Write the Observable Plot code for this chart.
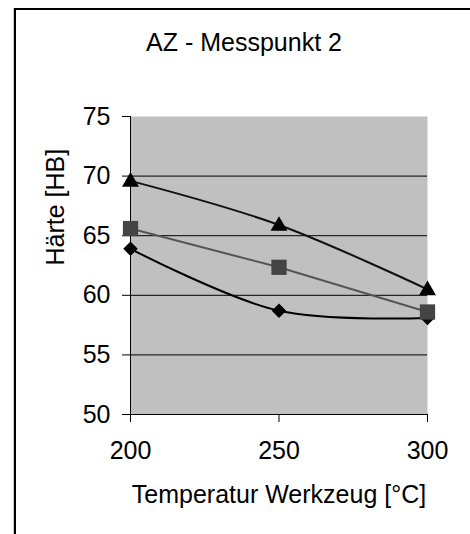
<!DOCTYPE html>
<html><head><meta charset="utf-8">
<script src="https://cdn.jsdelivr.net/npm/d3@7"></script>
<script src="https://cdn.jsdelivr.net/npm/@observablehq/plot@0.6"></script>
<style>
html,body{margin:0;padding:0;background:#fff;}
#wrap{position:relative;width:470px;height:534px;overflow:hidden;}
#border{position:absolute;left:14px;top:8px;width:470px;height:600px;border-left:2px solid #000;border-top:2px solid #000;box-shadow:-1px 0 0 #c8c8c8;pointer-events:none;}
</style></head><body><div id="wrap"><div id="border"></div></div>
<script>
const title = "AZ - Messpunkt 2";
const xLabel = "Temperatur Werkzeug [°C]";
const yLabel = "Härte [HB]";
const temps = [200, 250, 300];
const xTicks = [200, 250, 300];
const yTicks = [50, 55, 60, 65, 70, 75];
const gridValues = [55, 60, 65, 70];
const seriesTriangle = [69.6, 65.9, 60.5];
const seriesSquare = [65.6, 62.35, 58.6];
const seriesDiamond = [63.9, 58.7, 58.1];

const rows = (vals) => temps.map((t, i) => ({t, v: vals[i]}));
const tri = rows(seriesTriangle);
const sq = rows(seriesSquare);
const dia = rows(seriesDiamond);

const chart = Plot.plot({
  width: 470, height: 534,
  marginLeft: 130, marginRight: 43, marginTop: 116, marginBottom: 120,
  style: {fontFamily: '"Liberation Sans", Arial, sans-serif', fontSize: "25px", color: "#000", background: "transparent", overflow: "visible"},
  x: {domain: [200, 300]},
  y: {domain: [50, 75]},
  marks: [
    Plot.frame({fill: "#c0c0c0", stroke: "none"}),
    Plot.ruleY(gridValues, {stroke: "#000", strokeWidth: 1}),
    Plot.ruleX([200], {stroke: "#000", strokeWidth: 1}),
    Plot.ruleY([50], {stroke: "#000", strokeWidth: 1}),
    Plot.axisY(yTicks, {tickSize: 8, tickPadding: 12, fontSize: 25, label: null, tickFormat: d => String(d)}),
    Plot.axisX(xTicks, {tickSize: 8, tickPadding: 19, fontSize: 25, label: null, tickFormat: d => String(d)}),
    Plot.line(sq, {x: "t", y: "v", stroke: "#555", strokeWidth: 2}),
    Plot.line(dia, {x: "t", y: "v", curve: "catmull-rom", stroke: "#000", strokeWidth: 2}),
    Plot.line(tri, {x: "t", y: "v", curve: "catmull-rom", stroke: "#111", strokeWidth: 2}),
    Plot.dot(dia, {x: "t", y: "v", symbol: "diamond2", r: 6.5, fill: "#000", stroke: "none"}),
    Plot.dot(sq, {x: "t", y: "v", symbol: "square", r: 8.6, fill: "#444", stroke: "none"}),
    Plot.dot(tri, {x: "t", y: "v", symbol: "triangle", r: 6.3, fill: "#000", stroke: "none", dy: 1}),
    Plot.text([title], {text: d => d, frameAnchor: "top", dx: -35, dy: -74, fontSize: 25, lineAnchor: "middle"}),
    Plot.text([xLabel], {text: d => d, frameAnchor: "bottom", dy: 80, fontSize: 25, lineAnchor: "middle"}),
    Plot.text([yLabel], {text: d => d, frameAnchor: "left", rotate: -90, dx: -75, fontSize: 25, lineAnchor: "middle"})
  ]
});
chart.style.position = "absolute";
chart.style.left = "0px";
chart.style.top = "0px";
document.getElementById("wrap").insertBefore(chart, document.getElementById("border"));
</script>
</body></html>
